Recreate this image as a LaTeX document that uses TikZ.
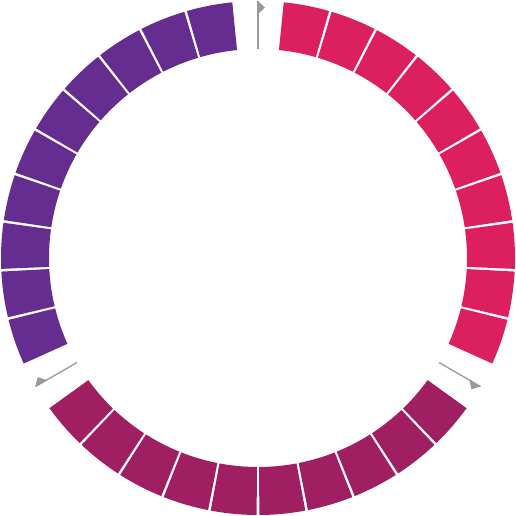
\documentclass[tikz,border=0pt]{standalone}
\definecolor{pinkseg}{HTML}{DC1F5F}
\definecolor{plumseg}{HTML}{A01E62}
\definecolor{violetseg}{HTML}{652D8F}
\definecolor{markgray}{HTML}{9A9A9A}
\tikzset{every picture/.style={line width=0.75pt}}
\tikzset{
  pinkblock/.style={fill=pinkseg},
  plumblock/.style={fill=plumseg},
  violetblock/.style={fill=violetseg},
  markline/.style={draw=markgray, line width=1pt},
  markflag/.style={fill=markgray}
}
\begin{document}
\begin{tikzpicture}[x=0.75pt,y=0.75pt,yscale=-1,xscale=1]
	\useasboundingbox (-258,-258) rectangle (258,257); %centre of the ring at the origin
	
	%Block Arc [pink 1]
	\fill [pinkblock] (-84.25:209) -- (-84.25:257) arc (-84.25:-73.94:257) -- (-73.94:209) arc (-73.94:-84.25:209) -- cycle;
	%Block Arc [pink 2]
	\fill [pinkblock] (-73.34:209) -- (-73.34:257) arc (-73.34:-63.03:257) -- (-63.03:209) arc (-63.03:-73.34:209) -- cycle;
	%Block Arc [pink 3]
	\fill [pinkblock] (-62.43:209) -- (-62.43:257) arc (-62.43:-52.12:257) -- (-52.12:209) arc (-52.12:-62.43:209) -- cycle;
	%Block Arc [pink 4]
	\fill [pinkblock] (-51.52:209) -- (-51.52:257) arc (-51.52:-41.21:257) -- (-41.21:209) arc (-41.21:-51.52:209) -- cycle;
	%Block Arc [pink 5]
	\fill [pinkblock] (-40.61:209) -- (-40.61:257) arc (-40.61:-30.30:257) -- (-30.30:209) arc (-30.30:-40.61:209) -- cycle;
	%Block Arc [pink 6]
	\fill [pinkblock] (-29.70:209) -- (-29.70:257) arc (-29.70:-19.39:257) -- (-19.39:209) arc (-19.39:-29.70:209) -- cycle;
	%Block Arc [pink 7]
	\fill [pinkblock] (-18.79:209) -- (-18.79:257) arc (-18.79:-8.48:257) -- (-8.48:209) arc (-8.48:-18.79:209) -- cycle;
	%Block Arc [pink 8]
	\fill [pinkblock] (-7.88:209) -- (-7.88:257) arc (-7.88:2.43:257) -- (2.43:209) arc (2.43:-7.88:209) -- cycle;
	%Block Arc [pink 9]
	\fill [pinkblock] (3.03:209) -- (3.03:257) arc (3.03:13.34:257) -- (13.34:209) arc (13.34:3.03:209) -- cycle;
	%Block Arc [pink 10]
	\fill [pinkblock] (13.94:209) -- (13.94:257) arc (13.94:24.25:257) -- (24.25:209) arc (24.25:13.94:209) -- cycle;
	
	%Block Arc [plum 1]
	\fill [plumblock] (35.75:209) -- (35.75:257) arc (35.75:46.06:257) -- (46.06:209) arc (46.06:35.75:209) -- cycle;
	%Block Arc [plum 2]
	\fill [plumblock] (46.66:209) -- (46.66:257) arc (46.66:56.97:257) -- (56.97:209) arc (56.97:46.66:209) -- cycle;
	%Block Arc [plum 3]
	\fill [plumblock] (57.57:209) -- (57.57:257) arc (57.57:67.88:257) -- (67.88:209) arc (67.88:57.57:209) -- cycle;
	%Block Arc [plum 4]
	\fill [plumblock] (68.48:209) -- (68.48:257) arc (68.48:78.79:257) -- (78.79:209) arc (78.79:68.48:209) -- cycle;
	%Block Arc [plum 5]
	\fill [plumblock] (79.39:209) -- (79.39:257) arc (79.39:89.70:257) -- (89.70:209) arc (89.70:79.39:209) -- cycle;
	%Block Arc [plum 6]
	\fill [plumblock] (90.30:209) -- (90.30:257) arc (90.30:100.61:257) -- (100.61:209) arc (100.61:90.30:209) -- cycle;
	%Block Arc [plum 7]
	\fill [plumblock] (101.21:209) -- (101.21:257) arc (101.21:111.52:257) -- (111.52:209) arc (111.52:101.21:209) -- cycle;
	%Block Arc [plum 8]
	\fill [plumblock] (112.12:209) -- (112.12:257) arc (112.12:122.43:257) -- (122.43:209) arc (122.43:112.12:209) -- cycle;
	%Block Arc [plum 9]
	\fill [plumblock] (123.03:209) -- (123.03:257) arc (123.03:133.34:257) -- (133.34:209) arc (133.34:123.03:209) -- cycle;
	%Block Arc [plum 10]
	\fill [plumblock] (133.94:209) -- (133.94:257) arc (133.94:144.25:257) -- (144.25:209) arc (144.25:133.94:209) -- cycle;
	
	%Block Arc [violet 1]
	\fill [violetblock] (155.75:209) -- (155.75:257) arc (155.75:166.06:257) -- (166.06:209) arc (166.06:155.75:209) -- cycle;
	%Block Arc [violet 2]
	\fill [violetblock] (166.66:209) -- (166.66:257) arc (166.66:176.97:257) -- (176.97:209) arc (176.97:166.66:209) -- cycle;
	%Block Arc [violet 3]
	\fill [violetblock] (177.57:209) -- (177.57:257) arc (177.57:187.88:257) -- (187.88:209) arc (187.88:177.57:209) -- cycle;
	%Block Arc [violet 4]
	\fill [violetblock] (188.48:209) -- (188.48:257) arc (188.48:198.79:257) -- (198.79:209) arc (198.79:188.48:209) -- cycle;
	%Block Arc [violet 5]
	\fill [violetblock] (199.39:209) -- (199.39:257) arc (199.39:209.70:257) -- (209.70:209) arc (209.70:199.39:209) -- cycle;
	%Block Arc [violet 6]
	\fill [violetblock] (210.30:209) -- (210.30:257) arc (210.30:220.61:257) -- (220.61:209) arc (220.61:210.30:209) -- cycle;
	%Block Arc [violet 7]
	\fill [violetblock] (221.21:209) -- (221.21:257) arc (221.21:231.52:257) -- (231.52:209) arc (231.52:221.21:209) -- cycle;
	%Block Arc [violet 8]
	\fill [violetblock] (232.12:209) -- (232.12:257) arc (232.12:242.43:257) -- (242.43:209) arc (242.43:232.12:209) -- cycle;
	%Block Arc [violet 9]
	\fill [violetblock] (243.03:209) -- (243.03:257) arc (243.03:253.34:257) -- (253.34:209) arc (253.34:243.03:209) -- cycle;
	%Block Arc [violet 10]
	\fill [violetblock] (253.94:209) -- (253.94:257) arc (253.94:264.25:257) -- (264.25:209) arc (264.25:253.94:209) -- cycle;
	
	%Straight Lines [top marker]
	\draw [markline] (-90:209) -- (-90:257) ;
	%Shape: Triangle [top flag]
	\fill [markflag] (-90:257) -- (-88.4:250.6) -- (-90:244) -- cycle;
	%Straight Lines [right marker]
	\draw [markline] (30:209) -- (30:257) ;
	%Shape: Triangle [right flag]
	\fill [markflag] (30:257) -- (31.6:250.6) -- (30:244) -- cycle;
	%Straight Lines [left marker]
	\draw [markline] (150:209) -- (150:257) ;
	%Shape: Triangle [left flag]
	\fill [markflag] (150:257) -- (151.6:250.6) -- (150:244) -- cycle;
	
\end{tikzpicture}
\end{document}
